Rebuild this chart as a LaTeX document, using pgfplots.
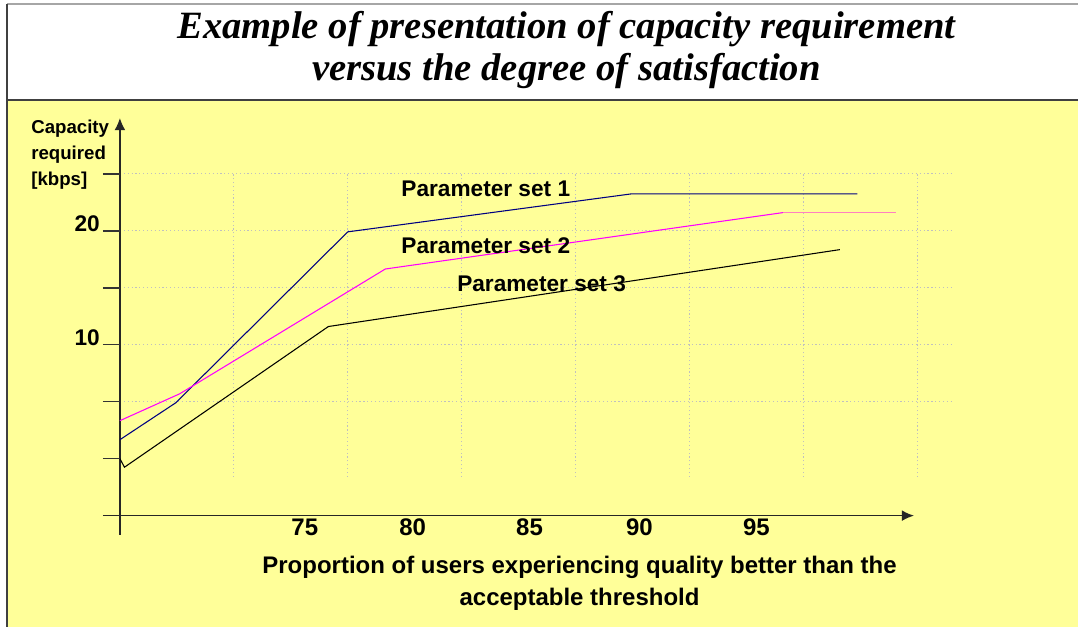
\documentclass[border=0pt]{standalone}
\usepackage{fontspec}
\setmainfont{Liberation Sans}
\newfontfamily\titlefont{Liberation Serif}
\usepackage{pgfplots}
\pgfplotsset{compat=1.18}
\usetikzlibrary{arrows.meta}
\definecolor{bgyellow}{HTML}{FFFF99}
\definecolor{navyline}{HTML}{000080}
\definecolor{magline}{HTML}{FF00FF}
\definecolor{pinkline}{HTML}{FF80C0}
\definecolor{gridgray}{HTML}{C0C0C0}
\begin{document}
\begin{tikzpicture}
\begin{axis}[
  scale only axis, width=809.25pt, height=470.25pt,
  xmin=-1.0526, xmax=8.4123, ymin=-1.9474, ymax=9.0526,
  axis lines=none, clip=false, ticks=none,
]
% bounding box = whole picture
\path (axis cs:-1.0526,-1.9474) rectangle (axis cs:8.4123,9.0526);
% backgrounds and frame
\fill[white] (axis cs:-0.991,7.298) rectangle (axis cs:8.4123,8.98);
\fill[bgyellow] (axis cs:-0.991,-1.9474) rectangle (axis cs:8.4123,7.298);
\draw[gray!70, line width=1.2pt] (axis cs:-0.991,8.98) -- (axis cs:8.4123,8.98);
\draw[black!75, line width=0.9pt] (axis cs:-0.991,7.298) -- (axis cs:8.4123,7.298);
\draw[black!75, line width=0.9pt] (axis cs:-0.991,-1.9474) -- (axis cs:-0.991,8.98);
% grid
\pgfplotsinvokeforeach{2,3,4,5,6}{\draw[gridgray, dotted, line width=0.9pt] (axis cs:0,#1) -- (axis cs:7.32,#1);}
\pgfplotsinvokeforeach{1,2,3,4,5,6,7}{\draw[gridgray, dotted, line width=0.9pt] (axis cs:#1,0.68) -- (axis cs:#1,6);}
% axes
\draw[black!85, line width=0.9pt, -{Latex[length=9pt,width=8pt]}] (axis cs:-0.149,0) -- (axis cs:6.97,0);
\draw[black!85, line width=0.9pt, -{Latex[length=9pt,width=8pt]}] (axis cs:0,-0.333) -- (axis cs:0,6.98);
\pgfplotsinvokeforeach{1,2,3,4,5,6}{\draw[black!80, line width=1.1pt] (axis cs:-0.149,#1) -- (axis cs:0,#1);}
% data
\addplot[navyline, line width=0.8pt] coordinates {(0,1.333) (0.491,1.982) (2.0,4.982) (4.491,5.649) (6.474,5.649)};
\addplot[magline, line width=0.8pt] coordinates {(0,1.667) (0.526,2.14) (2.33,4.33) (5.82,5.32)};
\addplot[pinkline, line width=1.1pt] coordinates {(5.82,5.32) (6.81,5.32)};
\addplot[black, line width=0.8pt] coordinates {(0,1.0) (0.04,0.85) (1.83,3.32) (6.32,4.67)};
% labels
\node[font=\fontsize{17}{20}\selectfont\bfseries, anchor=west] at (axis cs:2.43,5.74) {Parameter set 1};
\node[font=\fontsize{17}{20}\selectfont\bfseries, anchor=west] at (axis cs:2.43,4.74) {Parameter set 2};
\node[font=\fontsize{17}{20}\selectfont\bfseries, anchor=west] at (axis cs:2.92,4.07) {Parameter set 3};
% title
\node[font=\titlefont\fontsize{29}{31}\selectfont\bfseries\itshape, align=center] at (axis cs:3.92,8.175) {Example of presentation of capacity requirement\\versus the degree of satisfaction};
% y label
\node[font=\fontsize{14}{19.5}\selectfont\bfseries, align=left, anchor=north west, inner sep=0pt] at (axis cs:-0.78,6.95) {Capacity\\required\\{[kbps]}};
% y tick labels
\node[font=\fontsize{17}{20}\selectfont\bfseries, anchor=east, inner sep=0pt] at (axis cs:-0.175,5.12) {20};
\node[font=\fontsize{17}{20}\selectfont\bfseries, anchor=east, inner sep=0pt] at (axis cs:-0.175,3.12) {10};
% x tick labels
\node[font=\fontsize{18}{20}\selectfont\bfseries] at (axis cs:1.623,-0.21) {75};
\node[font=\fontsize{18}{20}\selectfont\bfseries] at (axis cs:2.570,-0.21) {80};
\node[font=\fontsize{18}{20}\selectfont\bfseries] at (axis cs:3.596,-0.21) {85};
\node[font=\fontsize{18}{20}\selectfont\bfseries] at (axis cs:4.561,-0.21) {90};
\node[font=\fontsize{18}{20}\selectfont\bfseries] at (axis cs:5.588,-0.21) {95};
% x label
\node[font=\fontsize{18}{24}\selectfont\bfseries, align=center] at (axis cs:4.035,-1.193) {Proportion of users experiencing quality better than the\\acceptable threshold};
\end{axis}
\end{tikzpicture}
\end{document}
